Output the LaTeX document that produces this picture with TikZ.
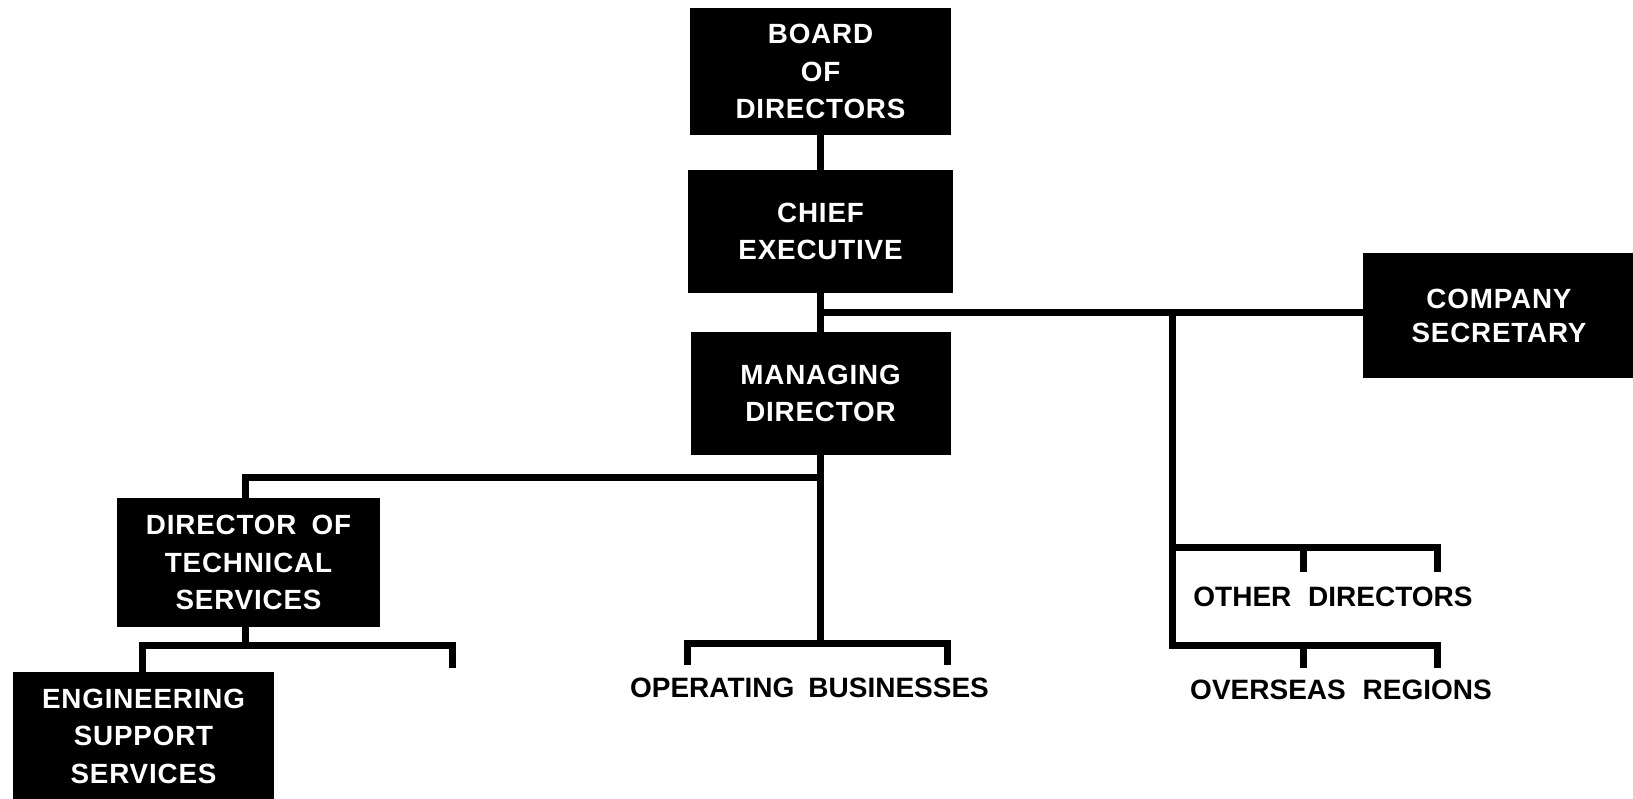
\documentclass[tikz,border=0pt]{standalone}
\usepackage{fontspec}
\setmainfont{Liberation Sans}
\newfontfamily\boxfont[LetterSpace=3]{Liberation Sans}
\begin{document}
\begin{tikzpicture}[x=1pt,y=-1pt,
  box/.style={rectangle, fill=black, text=white, align=center, inner sep=0pt,
    font=\boxfont\bfseries\fontsize{27.8}{37.5}\selectfont},
  lbl/.style={inner sep=0pt, font=\bfseries\fontsize{28}{34}\selectfont},
  conn/.style={line width=7pt, line join=miter}]
\useasboundingbox (0,0) rectangle (1633,799);
% boxes
\node[box, minimum width=261pt, minimum height=127pt] (board) at (820.5,71.5) {BOARD\\OF\\DIRECTORS};
\node[box, minimum width=265pt, minimum height=123pt] (chief) at (820.5,231.5) {CHIEF\\EXECUTIVE};
\node[box, minimum width=260pt, minimum height=123pt] (mgr) at (820.5,393.5) {MANAGING\\DIRECTOR};
\node[box, minimum width=272pt, minimum height=125pt, font=\boxfont\bfseries\fontsize{27.8}{34}\selectfont] (sec) at (1499,315.5) {COMPANY\\SECRETARY};
\node[box, minimum width=263pt, minimum height=129pt] (dts) at (248.5,562.5) {DIRECTOR\hspace{0.55em}OF\\TECHNICAL\\SERVICES};
\node[box, minimum width=261pt, minimum height=128pt] (ess) at (143.5,736) {ENGINEERING\\SUPPORT\\SERVICES};
% labels
\node[lbl] (ob) at (809.5,687.5) {OPERATING\hspace{0.5em}BUSINESSES};
\node[lbl] (od) at (1333,597) {OTHER\hspace{0.6em}DIRECTORS};
\node[lbl] (or) at (1341,690) {OVERSEAS\hspace{0.6em}REGIONS};
% coordinates
\coordinate (j1) at (820.5,313);
\coordinate (j2) at (1172,313);
\coordinate (odL) at (1172,547);
\coordinate (odM) at (1303,547);
\coordinate (odR) at (1437,547);
\coordinate (odMe) at (1303,572);
\coordinate (odRe) at (1437,572);
\coordinate (orL) at (1172,645);
\coordinate (orM) at (1303,645);
\coordinate (orR) at (1437,645);
\coordinate (orMe) at (1303,668);
\coordinate (orRe) at (1437,668);
\coordinate (mJ) at (820.5,477);
\coordinate (tL) at (245,477);
\coordinate (obM) at (820.5,643);
\coordinate (obL) at (687,643);
\coordinate (obR) at (947,643);
\coordinate (obLe) at (687,665);
\coordinate (obRe) at (947,665);
\coordinate (dJ) at (245,645);
\coordinate (eL) at (142,645);
\coordinate (eR) at (452,645);
\coordinate (eRe) at (452,668);
% connectors
\draw[conn] (board.south) -- (chief.north);
\draw[conn] (chief.south) -- (mgr.north);
\draw[conn] (j1) -- (j1 -| sec.west);
\draw[conn] (j2) -- (orL) -- (orR) -- (orRe);
\draw[conn] (orM) -- (orMe);
\draw[conn] (odL) -- (odR) -- (odRe);
\draw[conn] (odM) -- (odMe);
\draw[conn] (mgr.south) -- (obM);
\draw[conn] (obLe) -- (obL) -- (obR) -- (obRe);
\draw[conn] (mJ) -- (tL) -- (tL |- dts.north);
\draw[conn] (tL |- dts.south) -- (dJ);
\draw[conn] (eL |- ess.north) -- (eL) -- (eR) -- (eRe);
\end{tikzpicture}
\end{document}
